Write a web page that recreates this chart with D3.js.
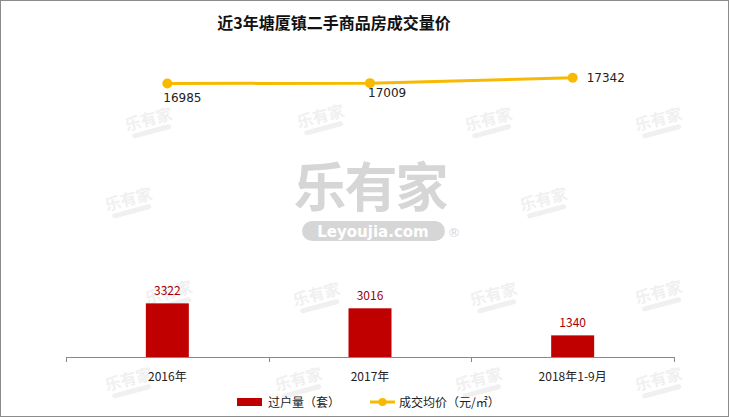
<!DOCTYPE html>
<html><head><meta charset="utf-8">
<script src="https://cdn.jsdelivr.net/npm/d3@7"></script>
<style>
html,body{margin:0;padding:0;background:#fff;}
svg{display:block;font-family:"Microsoft YaHei","Noto Sans CJK SC","DejaVu Sans",sans-serif;}
</style></head><body>
<svg id="c" width="729" height="417"></svg>
<script>
const title = "近3年塘厦镇二手商品房成交量价";
const categories = ["2016年", "2017年", "2018年1-9月"];
const volume = [3322, 3016, 1340];
const price = [16985, 17009, 17342];
const seriesNames = ["过户量（套）", "成交均价（元/㎡）"];

(function(){
const W = 729, H = 417;
const svg = d3.select("#c");
svg.append("rect").attr("x",0.5).attr("y",0.5).attr("width",W-1).attr("height",H-1)
  .attr("fill","#fff").attr("stroke","#8c8c8c").attr("stroke-width",1);

// watermarks
const wm = svg.append("g").attr("fill","#f0f0f0");
const smallPos = [[150,125],[322,122],[490,125],[660,125],
  [130,205],[545,205],[170,298],[318,300],[495,300],[660,298],[130,385],[300,385],[480,385],[660,385]];
smallPos.forEach(([px,py])=>{
  const g = wm.append("g").attr("transform",`translate(${px},${py}) rotate(-15)`);
  g.append("text").attr("text-anchor","middle").attr("font-size",16).attr("font-weight","bold").text("乐有家");
  g.append("rect").attr("x",-20).attr("y",4).attr("width",40).attr("height",5).attr("rx",2.5);
});
const big = svg.append("g").attr("fill","#d6d6d6");
big.append("text").attr("x",370).attr("y",207).attr("text-anchor","middle")
  .attr("font-size",53).attr("font-weight","bold").attr("letter-spacing",-2).text("乐有家");
big.append("rect").attr("x",302).attr("y",221).attr("width",143).attr("height",20).attr("rx",10);
big.append("text").attr("x",373).attr("y",237).attr("text-anchor","middle").attr("fill","#fff")
  .attr("font-size",15).attr("font-weight","bold").attr("font-family","\"DejaVu Sans\", sans-serif").text("Leyoujia.com");
big.append("text").attr("x",454).attr("y",237).attr("text-anchor","middle")
  .attr("font-size",13).attr("font-family","\"DejaVu Sans\", sans-serif").text("®");

// title
svg.append("text").attr("x",334).attr("y",29).attr("text-anchor","middle")
  .attr("font-size",16).attr("font-weight","bold").attr("fill","#111").text(title);

const pl = 66, pr = 674, pb = 357, pt = 34;
const x = d3.scaleBand().domain(categories).range([pl,pr]);
const yBar = d3.scaleLinear().domain([0,20000]).range([pb,pt]);
const yLine = d3.scaleLinear().domain([0,20000]).range([pb,pt+1]);

// bars
const bw = 43;
svg.selectAll(".bar").data(volume).enter().append("rect")
  .attr("x",(d,i)=>x(categories[i])+x.bandwidth()/2-bw/2)
  .attr("y",d=>yBar(d)).attr("width",bw).attr("height",d=>pb-yBar(d))
  .attr("fill","#C00000");
svg.selectAll(".blab").data(volume).enter().append("text")
  .attr("x",(d,i)=>x(categories[i])+x.bandwidth()/2)
  .attr("y",d=>yBar(d)-8).attr("text-anchor","middle")
  .attr("font-size",12).attr("fill","#A50000").text(d=>d);

// axis
const ax = svg.append("g").attr("transform",`translate(0,${pb})`)
  .call(d3.axisBottom(x).tickSize(0).tickPadding(15));
ax.select(".domain").remove();
ax.selectAll("text").attr("font-size",12).attr("fill","#222").attr("font-family","\"Microsoft YaHei\",\"Noto Sans CJK SC\",sans-serif");
svg.append("line").attr("x1",pl).attr("x2",pr).attr("y1",pb+0.5).attr("y2",pb+0.5)
  .attr("stroke","#888").attr("stroke-width",1);
const tickXs = categories.map(c=>x(c)).concat([pr]);
svg.selectAll(".tk").data(tickXs).enter().append("line")
  .attr("x1",d=>Math.round(d)+0.5).attr("x2",d=>Math.round(d)+0.5)
  .attr("y1",pb).attr("y2",pb+5).attr("stroke","#888");

// line
const lc = "#F8BA00";
const cx = i=>x(categories[i])+x.bandwidth()/2;
svg.append("path").datum(price)
  .attr("d",d3.line().x((d,i)=>cx(i)).y(d=>yLine(d)))
  .attr("fill","none").attr("stroke",lc).attr("stroke-width",3);
svg.selectAll(".pt").data(price).enter().append("circle")
  .attr("cx",(d,i)=>cx(i)).attr("cy",d=>yLine(d)).attr("r",5).attr("fill",lc);
const lblOff = [[-4,18],[-2,14],[14,4]];
svg.selectAll(".plab").data(price).enter().append("text")
  .attr("x",(d,i)=>cx(i)+lblOff[i][0]).attr("y",(d,i)=>yLine(d)+lblOff[i][1])
  .attr("font-size",12).attr("fill","#222").attr("font-family","\"DejaVu Sans\",sans-serif")
  .text(d=>d);

// legend
const lg = svg.append("g").attr("transform","translate(237,402)");
lg.append("rect").attr("x",0).attr("y",-4).attr("width",25).attr("height",8).attr("fill","#C00000");
lg.append("text").attr("x",31).attr("y",5).attr("font-size",12).attr("fill","#222").text(seriesNames[0]);
lg.append("line").attr("x1",133).attr("x2",158).attr("y1",0).attr("y2",0).attr("stroke",lc).attr("stroke-width",3);
lg.append("circle").attr("cx",145.5).attr("cy",0).attr("r",4).attr("fill",lc);
lg.append("text").attr("x",162).attr("y",5).attr("font-size",12).attr("fill","#222").text(seriesNames[1]);
})();
</script>
</body></html>
